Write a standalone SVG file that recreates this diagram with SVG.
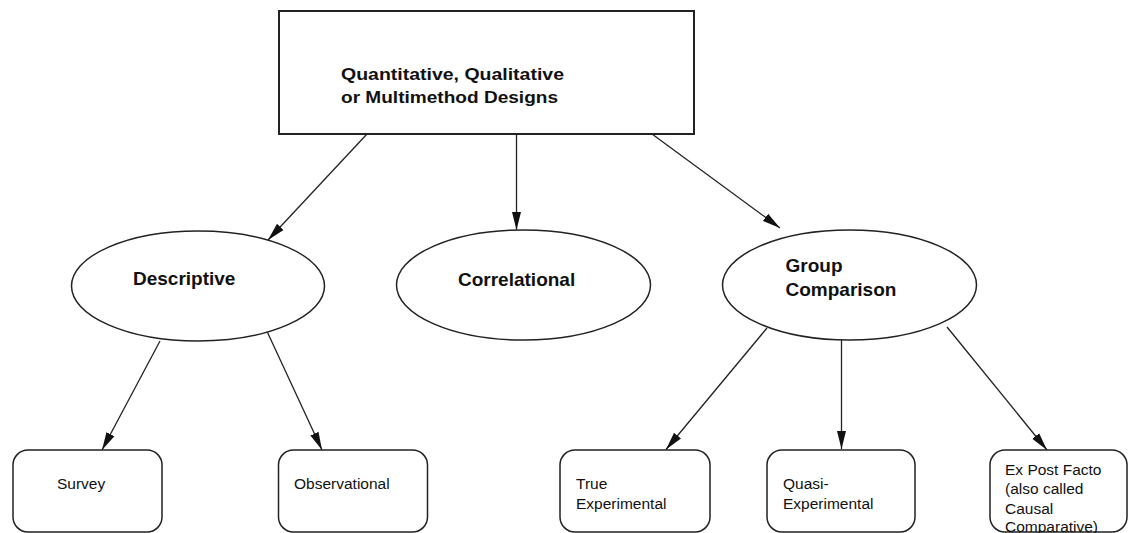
<svg xmlns="http://www.w3.org/2000/svg" width="1129" height="533" viewBox="0 0 1129 533">
<style>
.box{fill:#fff;stroke:#222;stroke-width:2}
.ell{fill:#fff;stroke:#222;stroke-width:1.5}
.rr{fill:#fff;stroke:#222;stroke-width:1.5}
.con{stroke:#222;stroke-width:1.3;fill:none;marker-end:url(#ah)}
.bt{font-family:"Liberation Sans",Arial,sans-serif;font-weight:bold;fill:#111}
.st{font-family:"Liberation Sans",Arial,sans-serif;font-size:15.5px;fill:#111}
</style>
<defs>
<marker id="ah" markerWidth="19" markerHeight="10" refX="18" refY="5" orient="auto" markerUnits="userSpaceOnUse">
<path d="M0,0.5 L18,5 L0,9.5 z" fill="#111"/>
</marker>
</defs>
<rect width="1129" height="533" fill="#fff"/>
<g id="connectors">
<line class="con" x1="367" y1="134" x2="268" y2="240"/>
<line class="con" x1="516.5" y1="134" x2="516.5" y2="230"/>
<line class="con" x1="652" y1="134" x2="780" y2="228"/>
<line class="con" x1="160" y1="341" x2="102" y2="450"/>
<line class="con" x1="265" y1="327" x2="322" y2="450"/>
<line class="con" x1="767" y1="328" x2="666" y2="449.5"/>
<line class="con" x1="841.5" y1="340" x2="841.5" y2="449"/>
<line class="con" x1="947" y1="327" x2="1047" y2="450"/>
</g>
<g id="root">
<rect class="box" x="279" y="11" width="415" height="123"/>
<text class="bt" font-size="16.5" x="341" y="80" textLength="223" lengthAdjust="spacingAndGlyphs">Quantitative, Qualitative</text>
<text class="bt" font-size="16.5" x="341" y="103" textLength="217" lengthAdjust="spacingAndGlyphs">or Multimethod Designs</text>
</g>
<g id="descriptive">
<ellipse class="ell" cx="198" cy="286" rx="126.5" ry="55"/>
<text class="bt" font-size="19" x="133" y="285">Descriptive</text>
</g>
<g id="correlational">
<ellipse class="ell" cx="523.5" cy="285" rx="127" ry="55"/>
<text class="bt" font-size="19" x="458" y="286">Correlational</text>
</g>
<g id="group-comparison">
<ellipse class="ell" cx="849.5" cy="285" rx="127" ry="55"/>
<text class="bt" font-size="19" x="785.5" y="271.5">Group</text>
<text class="bt" font-size="19" x="785.5" y="296">Comparison</text>
</g>
<g id="survey">
<rect class="rr" x="13" y="450" width="149" height="82" rx="15" ry="15"/>
<text class="st" x="57" y="489">Survey</text>
</g>
<g id="observational">
<rect class="rr" x="278.5" y="450" width="149" height="82" rx="15" ry="15"/>
<text class="st" x="294" y="489">Observational</text>
</g>
<g id="true-experimental">
<rect class="rr" x="560" y="450" width="150" height="82" rx="15" ry="15"/>
<text class="st" x="576" y="488.5">True</text>
<text class="st" x="576" y="508.5">Experimental</text>
</g>
<g id="quasi-experimental">
<rect class="rr" x="767" y="450" width="148" height="82" rx="15" ry="15"/>
<text class="st" x="783" y="489">Quasi-</text>
<text class="st" x="783" y="508.5">Experimental</text>
</g>
<g id="ex-post-facto">
<rect class="rr" x="990" y="450" width="137" height="82" rx="15" ry="15"/>
<text class="st" x="1005" y="475">Ex Post Facto</text>
<text class="st" x="1005" y="494.3">(also called</text>
<text class="st" x="1005" y="513.6">Causal</text>
<text class="st" x="1005" y="532">Comparative)</text>
</g>
</svg>
